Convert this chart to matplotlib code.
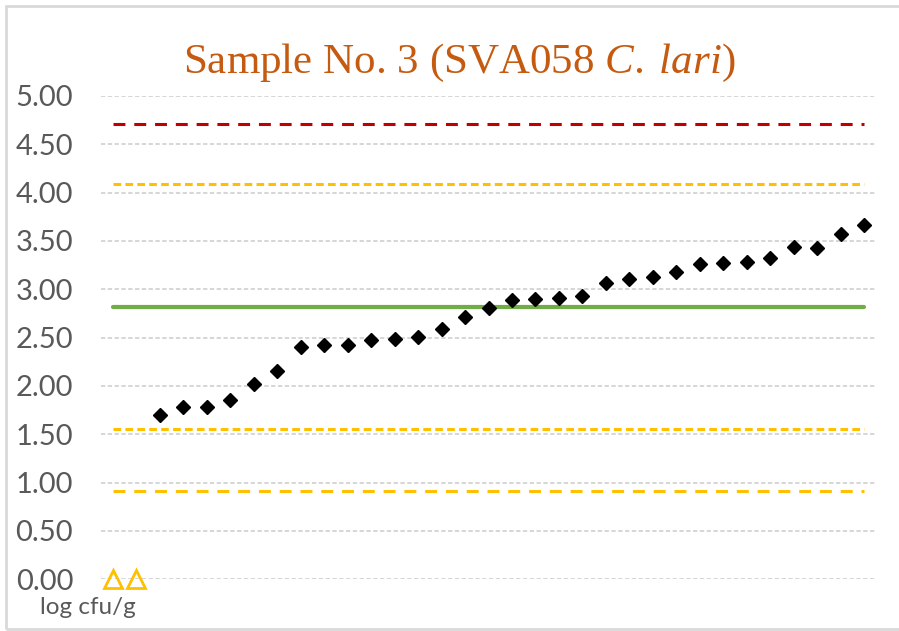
import matplotlib
matplotlib.use("Agg")
import matplotlib.pyplot as plt
from matplotlib.patches import Rectangle
import numpy as np

# ---- data ----
title_main = "Sample No. 3 (SVA058 "
title_species = "C. lari"
n_categories = 33
below_lod_positions = [1, 2]          # samples reported below detection (triangles at 0)
below_lod_values = [0.0, 0.0]
result_values = [1.70, 1.78, 1.78, 1.86, 2.02, 2.16, 2.40, 2.42, 2.42, 2.48,
                 2.49, 2.51, 2.59, 2.71, 2.81, 2.89, 2.90, 2.91, 2.93, 3.07,
                 3.11, 3.13, 3.18, 3.26, 3.27, 3.28, 3.32, 3.44, 3.43, 3.57, 3.67]
assigned_value = 2.82
upper_limit_red = 4.71
upper_limit_orange = 4.09
lower_limit_orange = 1.555
lower_limit_orange2 = 0.917
yticks = [0.0, 0.5, 1.0, 1.5, 2.0, 2.5, 3.0, 3.5, 4.0, 4.5, 5.0]
y_unit_label = "log cfu/g"

plt.rcParams['mathtext.fontset'] = 'custom'
plt.rcParams['mathtext.rm'] = 'Liberation Serif'
plt.rcParams['mathtext.it'] = 'Liberation Serif:italic'

W, H = 899, 631
fig = plt.figure(figsize=(W / 100, H / 100), dpi=100)
ax = fig.add_axes([101 / W, (H - 579.3) / H, 775 / W, (579.3 - 96) / H])

cats = np.arange(1, n_categories + 1)
res_x = cats[len(below_lod_positions):len(below_lod_positions) + len(result_values)]

gray = "#595959"
# reference lines
ax.plot(cats, [upper_limit_red] * n_categories, color="#C00000", lw=2.2,
        dashes=(3.9, 2.9), solid_capstyle='butt', zorder=3)
ax.plot(cats, [upper_limit_orange] * n_categories, color="#FFC000", lw=2.2,
        dashes=(2.5, 1.4), zorder=3)
ax.plot(cats, [assigned_value] * n_categories, color="#70AD47", lw=3.0,
        solid_capstyle='round', zorder=3)
ax.plot(cats, [lower_limit_orange] * n_categories, color="#FFC000", lw=2.2,
        dashes=(2.5, 1.4), zorder=3)
ax.plot(cats, [lower_limit_orange2] * n_categories, color="#FFC000", lw=2.2,
        dashes=(3.9, 2.9), zorder=3)

# results
ax.plot(res_x, result_values, linestyle='none', marker='D', ms=7.6,
        color='black', zorder=5)
ax.plot(below_lod_positions, below_lod_values, linestyle='none', marker='^',
        ms=13, mfc='none', mec='#FFC000', mew=2.0, zorder=5, clip_on=False)

ax.set_xlim(0.5, n_categories + 0.5)
ax.set_ylim(0, 5)
ax.set_yticks(yticks)
ax.set_yticklabels([f"{v:.2f}" for v in yticks])
ax.set_xticks([])
ax.tick_params(axis='y', length=0, pad=20, labelsize=21, labelcolor=gray)
for lab in ax.get_yticklabels():
    lab.set_fontfamily('Lato')
for s in ax.spines.values():
    s.set_visible(False)
ax.yaxis.grid(True, color="#D6D6D6", lw=1.4, dashes=(2.2, 1.3), zorder=0)
ax.set_axisbelow(True)

species_tex = r"$\it{" + title_species.replace(" ", r"\;") + "}$"
fig.text(459 / W, (H - 63) / H, title_main + species_tex + ")",
         ha='center', va='center', fontsize=31, color="#C55A11",
         family='Liberation Serif')
fig.text(88 / W, (H - 608) / H, y_unit_label, ha='center', va='center',
         fontsize=17.5, color=gray, family='Lato')

fig.patches.append(Rectangle((5.5 / W, 2.5 / H), 1.2, (H - 8) / H,
                             transform=fig.transFigure, fill=False,
                             ec="#D9D9D9", lw=2.0))

fig.savefig("out.png", dpi=100)
